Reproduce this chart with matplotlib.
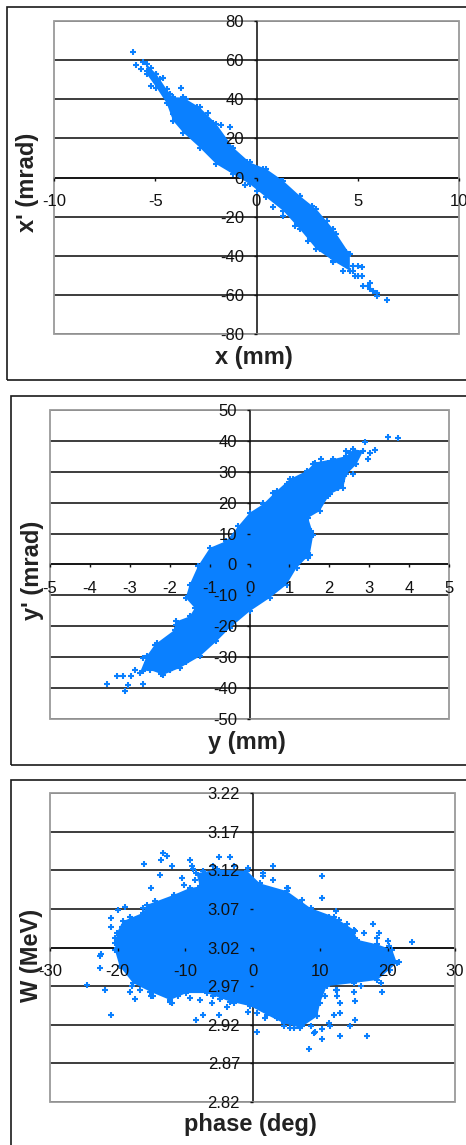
import matplotlib
matplotlib.use("Agg")
import matplotlib.pyplot as plt
from matplotlib.patches import Rectangle

plt.rcParams['font.family'] = ['Liberation Sans', 'DejaVu Sans']

W, H = 466, 1145
BLUE = '#0A80FF'

# ---- panel 1 ----
x1_xticks = [-10, -5, 0, 5, 10]
x1_yticks = [80, 60, 40, 20, 0, -20, -40, -60, -80]
x1_upper_x = [-5.43, -4.94, -4.44, -4.12, -3.62, -2.80, -1.98, -1.15, -0.33, 0.49, 1.32, 2.14, 2.96, 3.79, 4.61]
x1_upper_y = [58.0, 52.8, 45.1, 41.0, 40.9, 35.8, 27.3, 15.3, 7.7, 4.3, -1.7, -9.4, -16.2, -26.4, -39.2]
x1_lower_y = [53.0, 46.0, 38.0, 29.0, 23.0, 15.3, 6.8, 1.7, -3.4, -10.2, -17.0, -26.4, -36.6, -42.6, -47.7]
x1_out_x = [-6.12, -3.74, -2.39, -1.73, 4.25, 6.42, 5.93, 5.51, 5.02, 3.79, 2.55, 0.82, 1.32, 0.0, -0.58, -5.93, -5.60, -5.68, -4.77, 5.19, 4.77, 5.60, 5.27, 5.76,
            -5.43, -5.19, -4.94, -4.61, -4.28, -4.12, -3.46, -2.96, -2.14, -1.32, -1.81, -1.32, -0.49, 0.33, 1.23, 2.14, 2.72, 3.46, 3.95, 4.44, 3.79, 3.13, 1.89, 4.77, 5.02, 4.86, 5.19, 5.60, 5.93, -5.19]
x1_out_y = [64.4, 45.7, 33.2, 26.7, -47.7, -62.7, -60.5, -55.4, -50.3, -43.4, -32.4, -15.3, -19.6, -6.8, -3.9, 57.4, 58.8, 55.4, 50.3, -46.0, -45.1, -53.7, -55.4, -57.9,
            54.5, 46.8, 52.8, 51.1, 42.6, 32.4, 40.0, 35.8, 28.1, 25.6, 9.4, 4.3, 7.7, 4.3, -1.7, -9.4, -14.5, -22.1, -29.0, -38.3, -40.9, -36.6, -24.7, -47.7, -45.1, -50.3, -50.3, -57.1, -58.8, 56.2]

# ---- panel 2 ----
y2_xticks = [-5, -4, -3, -2, -1, 0, 1, 2, 3, 4, 5]
y2_yticks = [50, 40, 30, 20, 10, 0, -10, -20, -30, -40, -50]
y2_edge_x = [-2.75, -2.58, -2.37, -1.87, -1.83, -1.50, -1.37, -1.60, -1.50, -1.29, -0.99, -0.58, -0.28, 0.01, 0.34, 0.68, 1.01, 1.43, 1.64, 2.10, 2.43, 2.60, 2.85, 2.68, 2.43, 2.35, 2.01, 1.76, 1.47, 1.60, 1.51, 1.18, 0.93, 0.51, 0.01, -0.49, -0.83, -1.24, -1.75, -2.16, -2.50]
y2_edge_y = [-35.1, -29.7, -25.9, -21.1, -18.4, -16.8, -14.1, -10.8, -6.5, -0.5, 5.4, 7.6, 12.4, 16.8, 19.5, 23.8, 27.6, 30.3, 33.0, 34.1, 35.1, 37.3, 36.8, 32.4, 29.2, 24.9, 22.7, 17.3, 15.1, 9.7, 3.2, -1.1, -6.5, -10.8, -15.1, -20.5, -24.9, -29.7, -33.5, -35.7, -34.1]
y2_out_x = [-3.57, -3.33, -3.18, -3.12, -3.04, -2.96, -2.87, -2.66, -2.21, -2.0, 3.48, 3.73, 2.89, 3.14, 2.97, 2.60, 2.26, 3.02, 2.51, -2.66,
            2.43, 2.60, 2.72, 2.51, 2.31, 2.22, 1.97, 1.80, 1.97, 1.60, 1.09, 0.93, 0.59, 0.34, 1.47, 1.55, 1.47, -2.58, -2.33, -2.08, -1.83, -2.66, -2.0, -2.41, -1.24, -1.58]
y2_out_y = [-38.6, -36.0, -36.0, -41.1, -38.9, -36.2, -34.3, -38.6, -35.5, -34.1, 41.4, 40.8, 39.7, 37.1, 34.1, 29.2, 25.4, 36.2, 36.2, -30.3,
            36.8, 35.1, 36.2, 32.4, 27.0, 24.9, 22.2, 34.1, 33.0, 32.4, 27.6, 25.9, 23.2, 20.0, 17.3, 10.8, 2.2, -31.9, -25.4, -24.9, -19.5, -34.6, -33.5, -33.5, -28.1, -31.4]

# ---- panel 3 ----
w_xticks = [-30, -20, -10, 0, 10, 20, 30]
w_yticks = [3.22, 3.17, 3.12, 3.07, 3.02, 2.97, 2.92, 2.87, 2.82]
w_edge_x = [-20.1, -19.2, -16.2, -15.7, -11.7, -9.3, -7.8, -8.3, -5.3, -0.8, 1.1, 5.1, 8.6, 12.0, 15.0, 15.5, 18.5, 20.7, 21.4, 18.5, 15.0, 11.0, 10.0, 9.6, 7.1, 4.6, 2.1, -0.3, -3.3, -6.8, -9.8, -12.2, -15.2, -17.7, -19.7, -20.4]
w_edge_y = [3.039, 3.054, 3.065, 3.075, 3.088, 3.097, 3.099, 3.116, 3.121, 3.119, 3.103, 3.093, 3.071, 3.060, 3.043, 3.030, 3.024, 3.017, 3.000, 2.978, 2.974, 2.970, 2.948, 2.931, 2.916, 2.922, 2.933, 2.944, 2.950, 2.961, 2.961, 2.952, 2.963, 2.974, 2.996, 3.017]
w_out_x = [-13.2, -12.7, -13.5, -16.1, -12.0, -9.3, -9.0, -5.0, -3.3, 3.0, 10.3, 10.3, -13.7, -10.5, -15.0, -18.9, -19.9, -21.0, -21.0, -22.4, -22.6, -24.5, -21.9, -21.0, -17.4, -14.7, -12.0, -7.8, -6.0, -3.8, -7.3, -8.3, -5.0, 0.6, 8.3, 10.3, 13.0, 17.0, 14.5, 15.2, 13.0, 15.2, 12.5, 19.2, 23.7, 21.7, 20.0, 18.7, 17.9, 15.2, 12.3, 5.3, 12.5, 11.5, 5.6, 1.6, -8.8, -22.6, 9.1, 13.0,
           -18.2, -16.7, -15.0, -14.2, -12.2, -11.0, -9.3, -5.8, -4.8, -2.8, -0.6, 0.6, 1.9, 3.6, 4.6, 6.1, 7.3, 8.6, 9.3, 10.3, 11.3, 12.0, 10.0, 10.8, 12.3, 15.0, 16.0, 19.0, 20.4, 20.2, 18.5, 16.5, 14.0, 12.8, 11.3, 7.3, 5.1, 3.1, 1.6, -0.6, -2.8, -5.8, -7.3, -8.5, -10.2, -11.7, -14.5, -16.2, -18.2, -19.4, -20.4, -20.4, -17.9]
w_out_y = [3.142, 3.139, 3.133, 3.128, 3.125, 3.133, 3.125, 3.137, 3.137, 3.125, 3.112, 3.084, 3.114, 3.110, 3.097, 3.073, 3.069, 3.058, 3.047, 3.011, 2.993, 2.971, 2.965, 2.933, 2.953, 2.957, 2.948, 2.952, 2.948, 2.943, 2.933, 2.926, 2.932, 2.911, 2.888, 2.901, 2.906, 2.906, 2.918, 2.926, 2.935, 2.951, 2.957, 2.962, 3.027, 3.001, 3.029, 3.039, 3.050, 3.041, 3.067, 3.097, 2.965, 2.918, 2.916, 3.116, 3.121, 3.009, 2.909, 2.948,
           2.963, 2.965, 2.957, 2.965, 2.950, 2.957, 2.955, 2.957, 2.953, 2.948, 2.937, 2.935, 2.929, 2.929, 2.918, 2.916, 2.918, 2.918, 2.911, 2.914, 2.922, 2.933, 2.961, 2.957, 2.965, 2.963, 2.970, 2.974, 2.991, 3.022, 3.032, 3.039, 3.050, 3.056, 3.060, 3.082, 3.097, 3.108, 3.112, 3.123, 3.125, 3.125, 3.119, 3.108, 3.101, 3.088, 3.080, 3.071, 3.060, 3.047, 3.032, 3.026, 2.970]

fig = plt.figure(figsize=(W / 100, H / 100), dpi=100)


def panel(box, xlim, ylim, cross, xticks, yticks, yfmt, poly_x, poly_y, out_x, out_y,
          xlabel, ylabel, xlab_px, ylab_px):
    L, T, R, B = box
    ax = fig.add_axes([L / W, 1 - B / H, (R - L) / W, (B - T) / H])
    ax.set_xlim(*xlim)
    ax.set_ylim(*ylim)
    ax.set_axisbelow(False)
    ax.hlines(yticks, xlim[0], xlim[1], color='#111111', lw=1.15, zorder=1)
    ax.fill(poly_x, poly_y, color=BLUE, lw=0, zorder=2)
    ax.scatter(poly_x, poly_y, marker='+', s=18, lw=1.5, color=BLUE, zorder=2)
    ax.scatter(out_x, out_y, marker='+', s=18, lw=1.5, color=BLUE, zorder=2)
    for side in ('top', 'right'):
        ax.spines[side].set_visible(False)
    ax.spines['left'].set_position(('data', 0))
    ax.spines['bottom'].set_position(('data', cross))
    for side in ('left', 'bottom'):
        ax.spines[side].set_color('#111111')
        ax.spines[side].set_linewidth(1.15)
        ax.spines[side].set_zorder(1)
    ax.add_patch(Rectangle((0, 0), 1, 1, transform=ax.transAxes, fill=False,
                           ec='#9a9a9a', lw=1.3, clip_on=False, zorder=1.5))
    ax.set_xticks(xticks)
    ax.set_xticklabels([str(t) for t in xticks])
    ax.set_yticks(yticks)
    ax.set_yticklabels([yfmt % t for t in yticks])
    ax.tick_params(axis='x', direction='out', length=2.5, width=1, pad=9.5,
                   labelsize=12, colors='#111111')
    ax.tick_params(axis='y', direction='out', length=2.5, width=1, pad=6.5,
                   labelsize=12, colors='#111111')
    ax.set_xlabel(xlabel, fontsize=17, fontweight='bold', color='#222222')
    ax.set_ylabel(ylabel, fontsize=17, fontweight='bold', color='#222222')
    ax.xaxis.set_label_coords((xlab_px[0] - L) / (R - L), (B - xlab_px[1]) / (B - T))
    ax.xaxis.label.set_verticalalignment('center')
    ax.yaxis.set_label_coords((ylab_px[0] - L) / (R - L), (B - ylab_px[1]) / (B - T))
    ax.yaxis.label.set_verticalalignment('center')
    return ax


x1_poly_x = x1_upper_x + x1_upper_x[::-1]
x1_poly_y = x1_upper_y + x1_lower_y[::-1]

panel((54, 21, 459, 334), (-10, 10), (-80, 80), 0, x1_xticks, x1_yticks, '%d',
      x1_poly_x, x1_poly_y, x1_out_x, x1_out_y,
      'x (mm)', "x' (mrad)", (254, 357), (28, 182))
panel((50, 410, 449, 719), (-5, 5), (-50, 50), 0, y2_xticks, y2_yticks, '%d',
      y2_edge_x, y2_edge_y, y2_out_x, y2_out_y,
      'y (mm)', "y' (mrad)", (247, 742), (33, 570))
panel((50, 793, 455, 1102), (-30, 30), (2.82, 3.22), 3.02, w_xticks, w_yticks, '%.2f',
      w_edge_x, w_edge_y, w_out_x, w_out_y,
      'phase (deg)', 'W (MeV)', (250, 1125), (32, 955))

# outer chart frames (run off the right edge, third off the bottom too)
for (l, t, b) in [(7, 7, 380), (11, 396, 765), (11, 780, 1160)]:
    fig.add_artist(Rectangle((l / W, 1 - b / H), (W + 20 - l) / W, (b - t) / H,
                             transform=fig.transFigure, fill=False,
                             ec='#1a1a1a', lw=1.2))

fig.savefig('out.png', dpi=100)
